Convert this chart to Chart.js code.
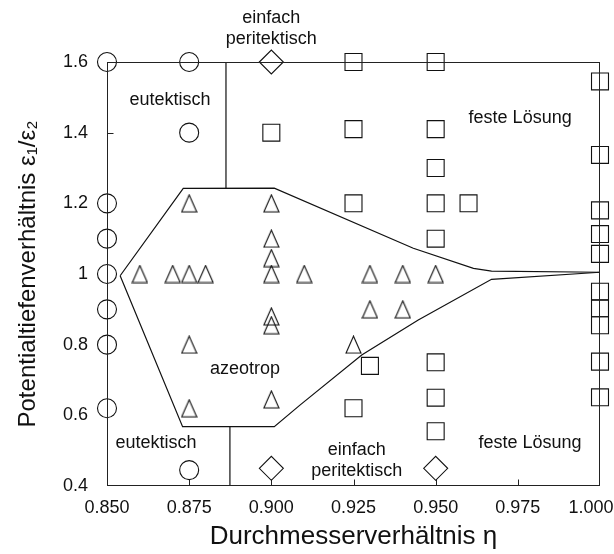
<!DOCTYPE html>
<html><head><meta charset="utf-8">
<script src="https://cdn.jsdelivr.net/npm/chart.js@4.4.1/dist/chart.umd.min.js"></script>
<style>html,body{margin:0;padding:0;background:#fff;}#wrap{width:614px;height:554px;}</style>
</head><body><div id="wrap"><canvas id="c" width="614" height="554"></canvas></div>
<script>
// ---- tick labels ----
const xTicks = [0.85, 0.875, 0.9, 0.925, 0.95, 0.975, 1.0];
const yTicks = [0.4, 0.6, 0.8, 1.0, 1.2, 1.4, 1.6];

// ---- circles (eutektisch) ----
const circleEta = [0.85, 0.85, 0.85, 0.85, 0.85, 0.85, 0.85, 0.875, 0.875, 0.875];
const circleEps = [1.6, 1.2, 1.1, 1.0, 0.9, 0.8, 0.62, 1.6, 1.4, 0.445];

// ---- diamonds (einfach peritektisch) ----
const diamondEta = [0.9, 0.9, 0.95];
const diamondEps = [1.6, 0.45, 0.45];

// ---- triangles (azeotrop) ----
const triEta = [0.86, 0.87, 0.875, 0.88, 0.875, 0.875, 0.875, 0.9, 0.9, 0.9, 0.9, 0.9, 0.9, 0.9, 0.91, 0.93, 0.94, 0.95, 0.93, 0.94, 0.925];
const triEps = [1.0, 1.0, 1.0, 1.0, 1.2, 0.8, 0.62, 1.2, 1.1, 1.045, 1.0, 0.88, 0.855, 0.645, 1.0, 1.0, 1.0, 1.0, 0.9, 0.9, 0.8];

// ---- squares (feste Lösung) ----
const squareEta = [0.9, 0.925, 0.95, 0.925, 0.95, 0.95, 0.925, 0.95, 0.96, 0.95, 0.93, 0.925, 0.95, 0.95, 0.95,
                   1.0, 1.0, 1.0, 1.0, 1.0, 1.0, 1.0, 1.0, 1.0, 1.0];
const squareEps = [1.4, 1.6, 1.6, 1.41, 1.41, 1.3, 1.2, 1.2, 1.2, 1.1, 0.74, 0.62, 0.75, 0.65, 0.555,
                   1.545, 1.337, 1.18, 1.113, 1.057, 0.95, 0.903, 0.855, 0.752, 0.651];

// ---- phase boundaries ----
const upperEta = [0.854, 0.8732, 0.9009, 0.9432, 0.9615, 0.967, 1.0];
const upperEps = [0.995, 1.2425, 1.243, 1.0727, 1.016, 1.0084, 1.005];
const lowerEta = [0.854, 0.873, 0.9009, 0.9087, 0.9275, 0.9447, 0.967, 1.0];
const lowerEps = [0.995, 0.568, 0.568, 0.629, 0.7707, 0.870, 0.985, 1.005];
const vUpperEta = [0.8862, 0.8862];
const vUpperEps = [1.6, 1.243];
const vLowerEta = [0.8874, 0.8874];
const vLowerEps = [0.568, 0.4];

const FONT = "'Liberation Sans', Arial, Helvetica, sans-serif";
const INK = '#111';

function pts(xs, ys) { return xs.map((x, i) => ({x: x, y: ys[i]})); }

// triangle marker (taller than equilateral, as in the reference)
function makeTriangle() {
  const c = document.createElement('canvas');
  c.width = 17; c.height = 19;
  const g = c.getContext('2d');
  g.strokeStyle = INK; g.lineWidth = 1.1;
  g.beginPath();
  g.moveTo(8.5, 1); g.lineTo(16, 18); g.lineTo(1, 18); g.closePath();
  g.stroke();
  return c;
}
const triImg = makeTriangle();

// text annotations (region names)
const notes = [
  {t: 'eutektisch', x: 0.8692, y: 1.492},
  {t: 'feste Lösung', x: 0.9757, y: 1.4406},
  {t: 'azeotrop', x: 0.892, y: 0.730},
  {t: 'eutektisch', x: 0.8649, y: 0.521},
  {t: 'einfach', x: 0.926, y: 0.502},
  {t: 'peritektisch', x: 0.926, y: 0.443},
  {t: 'feste Lösung', x: 0.9787, y: 0.521}
];

function edges(a) {
  return {L: Math.round(a.left) + 0.5, R: Math.round(a.right) - 0.5,
          T: Math.round(a.top) + 0.5, B: Math.round(a.bottom) - 0.5};
}

const decor = {
  id: 'decor',
  beforeDatasetsDraw(chart) {
    const {ctx, chartArea: a, scales: {x, y}} = chart;
    const {L, B} = edges(a);
    ctx.save();
    ctx.strokeStyle = '#222';
    ctx.lineWidth = 1;
    ctx.beginPath();
    xTicks.slice(1, -1).forEach(v => {
      const px = Math.round(x.getPixelForValue(v)) + 0.5;
      ctx.moveTo(px, B); ctx.lineTo(px, B - 6);
    });
    yTicks.slice(1, -1).forEach(v => {
      const py = Math.round(y.getPixelForValue(v)) + 0.5;
      ctx.moveTo(L, py); ctx.lineTo(L + 6, py);
    });
    ctx.stroke();
    ctx.restore();
  },
  afterDatasetsDraw(chart) {
    const {ctx, chartArea: a, scales: {x, y}} = chart;
    const {L, R, T, B} = edges(a);
    ctx.save();
    ctx.strokeStyle = '#222';
    ctx.lineWidth = 1;
    ctx.strokeRect(L, T, R - L, B - T);
    // region labels
    ctx.fillStyle = INK;
    ctx.font = '18px ' + FONT;
    ctx.textAlign = 'center';
    ctx.textBaseline = 'middle';
    notes.forEach(n => ctx.fillText(n.t, x.getPixelForValue(n.x), y.getPixelForValue(n.y)));
    // label above the frame
    const cx = x.getPixelForValue(0.9);
    ctx.fillText('einfach', cx, a.top - 44);
    ctx.fillText('peritektisch', cx, a.top - 23);
    ctx.restore();
  }
};

const lineDs = (xs, ys) => ({
  type: 'line', data: pts(xs, ys), showLine: true, borderColor: INK, borderWidth: 1.2,
  pointRadius: 0, fill: false, clip: false, tension: 0
});

new Chart(document.getElementById('c'), {
  type: 'scatter',
  data: {
    datasets: [
      lineDs(upperEta, upperEps),
      lineDs(lowerEta, lowerEps),
      lineDs(vUpperEta, vUpperEps),
      lineDs(vLowerEta, vLowerEps),
      {label: 'eutektisch', data: pts(circleEta, circleEps), pointStyle: 'circle', pointRadius: 9.5,
       borderColor: INK, borderWidth: 1.1, backgroundColor: '#fff', clip: false},
      {label: 'einfach peritektisch', data: pts(diamondEta, diamondEps), pointStyle: 'rectRot', pointRadius: 12,
       borderColor: INK, borderWidth: 1.1, backgroundColor: 'rgba(0,0,0,0)', clip: false},
      {label: 'azeotrop', data: pts(triEta, triEps), pointStyle: triImg, pointRadius: 9,
       borderColor: INK, backgroundColor: 'rgba(0,0,0,0)', clip: false},
      {label: 'feste Lösung', data: pts(squareEta, squareEps), pointStyle: 'rect', pointRadius: 12,
       borderColor: INK, borderWidth: 1.1, backgroundColor: 'rgba(0,0,0,0)', clip: false}
    ]
  },
  options: {
    responsive: false,
    devicePixelRatio: 1,
    animation: false,
    events: [],
    layout: {padding: {left: 0, right: 14, top: 62, bottom: 0}},
    plugins: {legend: {display: false}, tooltip: {enabled: false}},
    scales: {
      x: {
        type: 'linear', min: 0.85, max: 1.0,
        afterBuildTicks: s => { s.ticks = xTicks.map(v => ({value: v})); },
        afterFit: s => { s.height = 68; s.paddingLeft = 0; s.paddingRight = 0; },
        grid: {display: false, drawTicks: false},
        border: {display: false},
        ticks: {
          autoSkip: false, maxRotation: 0, padding: 11, color: INK,
          font: {size: 18, family: FONT},
          callback: v => v === 1 ? '1.000\u2002\u2002' : Number(v).toFixed(3)
        },
        title: {display: true, text: 'Durchmesserverhältnis η', color: INK,
                font: {size: 26, family: FONT}, padding: {top: 0, bottom: 2}}
      },
      y: {
        type: 'linear', min: 0.4, max: 1.6,
        afterBuildTicks: s => { s.ticks = yTicks.map(v => ({value: v})); },
        afterFit: s => { s.width = 107; s.paddingTop = 0; s.paddingBottom = 0; },
        grid: {display: false, drawTicks: false},
        border: {display: false},
        ticks: {
          padding: 19, color: INK,
          font: {size: 18, family: FONT},
          callback: v => Math.abs(v - 1) < 1e-9 ? '1' : Number(v).toFixed(1)
        },
        title: {display: true, text: 'Potentialtiefenverhältnis ε₁/ε₂', color: INK,
                font: {size: 24, family: FONT}, padding: {top: 14, bottom: 0}}
      }
    }
  },
  plugins: [decor]
});
</script></body></html>
